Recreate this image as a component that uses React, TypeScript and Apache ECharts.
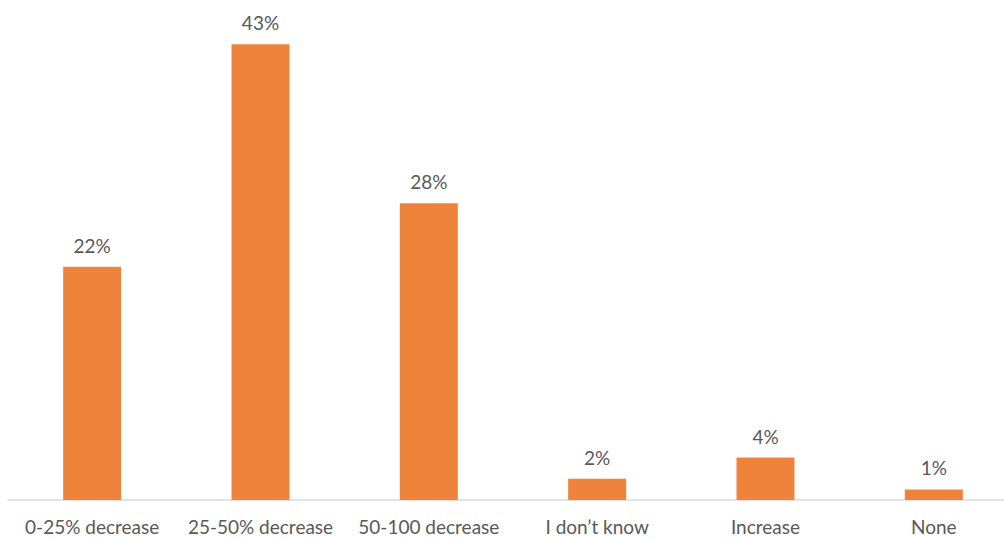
import React, { useEffect, useRef } from "react";
import * as echarts from "echarts";

const categories = [
  "0-25% decrease",
  "25-50% decrease",
  "50-100 decrease",
  "I don\u2019t know",
  "Increase",
  "None",
];
const values = [22, 43, 28, 2, 4, 1];

const BAR_COLOR = "#F0833B";
const TEXT_COLOR = "#595959";
const FONT = "Lato, 'Open Sans', sans-serif";

export default function App() {
  const ref = useRef<HTMLDivElement>(null);

  useEffect(() => {
    document.body.style.overflow = "hidden";
    if (!ref.current) return;
    const chart = echarts.init(ref.current, undefined, { renderer: "svg" });
    chart.setOption({
      animation: false,
      backgroundColor: "#ffffff",
      // the plot runs a little past the right edge of the frame
      grid: { left: 8, right: 0, top: 23, bottom: 38, containLabel: false },
      xAxis: {
        type: "category",
        data: categories,
        axisLine: { lineStyle: { color: "#D9D9D9", width: 1.5 } },
        axisTick: { show: false },
        axisLabel: {
          color: TEXT_COLOR,
          fontFamily: FONT,
          fontSize: 19,
          margin: 17,
          interval: 0,
        },
      },
      yAxis: {
        type: "value",
        min: 0,
        max: 45,
        show: false,
        splitLine: { show: false },
      },
      series: [
        {
          type: "bar",
          data: values,
          barWidth: 58,
          itemStyle: { color: BAR_COLOR },
          label: {
            show: true,
            position: "top",
            distance: 12,
            formatter: "{c}%",
            color: TEXT_COLOR,
            fontFamily: FONT,
            fontSize: 19,
          },
        },
      ],
    });
    return () => chart.dispose();
  }, []);

  return (
    <div style={{ position: "fixed", left: 0, top: 0, width: 1004, height: 538, overflow: "hidden", background: "#fff" }}>
      <div ref={ref} style={{ width: 1018, height: 538 }} />
    </div>
  );
}
